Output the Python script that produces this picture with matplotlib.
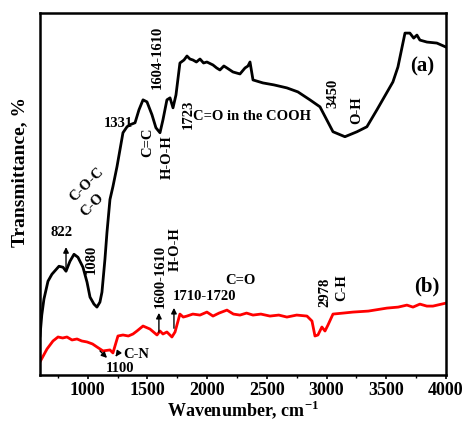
import matplotlib
matplotlib.use('Agg')
import matplotlib.pyplot as plt
from matplotlib.ticker import MultipleLocator

plt.rcParams['font.family'] = ['Liberation Serif', 'DejaVu Serif']
plt.rcParams['font.weight'] = 'bold'
plt.rcParams['mathtext.fontset'] = 'custom'
plt.rcParams['mathtext.rm'] = 'Liberation Serif:bold'
plt.rcParams['mathtext.bf'] = 'Liberation Serif:bold'

# spectrum (a) (arbitrary transmittance units)
wn_a = [600, 615, 633, 667, 700, 759, 793, 818, 851, 885, 918, 960, 994, 1019,
        1052, 1077, 1102, 1119, 1144, 1161, 1186, 1211, 1245, 1295, 1329, 1354,
        1396, 1429, 1463, 1496, 1538, 1571, 1605, 1630, 1663, 1689, 1714, 1739,
        1772, 1806, 1831, 1856, 1881, 1910, 1940, 1970, 1998, 2049, 2080, 2107,
        2140, 2166, 2216, 2275, 2317, 2342, 2359, 2384, 2467, 2560, 2668, 2760,
        2861, 2945, 3054, 3154, 3255, 3338, 3422, 3556, 3598, 3657, 3698, 3730,
        3757, 3782, 3841, 3924, 4000]
tr_a = [39, 60, 76, 94, 101, 109, 108, 104, 114, 121, 118, 108, 93, 78,
        71, 68, 73, 83, 116, 143, 176, 189, 209, 243, 249, 251,
        253, 266, 276, 274, 261, 248, 243, 256, 276, 278, 268, 281,
        313, 316, 320, 317, 316, 314, 317, 313, 314, 311, 308, 306,
        310, 308, 304, 302, 308, 310, 314, 296, 293, 291, 288, 284,
        276, 269, 244, 239, 244, 249, 266, 294, 309, 343, 343, 338,
        341, 336, 334, 333, 329]

# spectrum (b)
wn_b = [600, 659, 709, 751, 790, 826, 868, 910, 950, 994, 1040, 1077, 1128,
        1186, 1211, 1253, 1295, 1340, 1379, 1412, 1463, 1521, 1580, 1605, 1630,
        1663, 1705, 1731, 1772, 1800, 1831, 1880, 1940, 1998, 2049, 2100, 2166,
        2220, 2275, 2330, 2384, 2450, 2526, 2600, 2668, 2750, 2836, 2878, 2903,
        2928, 2961, 2987, 3012, 3054, 3140, 3221, 3350, 3506, 3600, 3673, 3724,
        3782, 3840, 3891, 4000]
tr_b = [13, 26, 34, 38, 37, 38, 35, 36, 34, 33, 31, 28, 24,
        25, 22, 39, 40, 39, 41, 44, 49, 46, 40, 44, 41,
        43, 38, 43, 61, 58, 59, 61, 60, 63, 59, 62, 65,
        61, 60, 62, 60, 61, 59, 60, 58, 60, 59, 54, 39,
        40, 48, 44, 50, 61, 62, 63, 64, 67, 68, 70, 68,
        71, 69, 69, 72]

fig = plt.figure(figsize=(4.65, 4.25), dpi=100)
ax = fig.add_axes([0.086, 0.118, 0.873, 0.851])

ax.plot(wn_a, tr_a, color='black', lw=2)
ax.plot(wn_b, tr_b, color='red', lw=2)

ax.set_xlim(600, 4000)
ax.set_ylim(0, 363)
ax.set_yticks([])
ax.xaxis.set_minor_locator(MultipleLocator(250))
ax.set_xticks([1000, 1500, 2000, 2500, 3000, 3500, 4000])
ax.tick_params(axis='x', which='major', direction='out', length=3, width=1.2,
               labelsize=13, pad=2)
ax.tick_params(axis='x', which='minor', direction='out', length=2, width=1)
for s in ax.spines.values():
    s.set_linewidth(1.8)

ax.set_xlabel('Wavenumber, cm$^{-1}$', fontsize=13, fontweight='bold')
ax.xaxis.set_label_coords(0.5, -0.066)
ax.set_ylabel('Transmittance, %', fontsize=14, fontweight='bold')
ax.yaxis.set_label_coords(-0.03, 0.56)

fs = 10.5
arr = dict(arrowstyle='-|>', color='black', lw=1, mutation_scale=8)

# labels for (a)
ax.text(784, 143, '822', fontsize=fs, ha='center', va='center')
ax.annotate('', xy=(818, 131), xytext=(818, 104), arrowprops=arr)
ax.text(1027, 116, '1080', fontsize=fs, rotation=90, ha='center', va='center')
ax.text(994, 191, 'C-O-C', fontsize=fs, rotation=45, ha='center', va='center')
ax.text(1035, 170, 'C-O', fontsize=fs, rotation=45, ha='center', va='center')
ax.text(1253, 252, '1331', fontsize=fs, ha='center', va='center')
ax.text(1580, 319, '1604-1610', fontsize=fs, rotation=90, ha='center', va='center')
ax.text(1504, 233, 'C=C', fontsize=fs, rotation=90, ha='center', va='center')
ax.text(1663, 219, 'H-O-H', fontsize=fs, rotation=90, ha='center', va='center')
ax.text(1839, 261, '1723', fontsize=fs, rotation=90, ha='center', va='center')
ax.text(1880, 259, 'C=O in the COOH', fontsize=fs, ha='left', va='center')
ax.text(3054, 283, '3450', fontsize=fs, rotation=90, ha='center', va='center')
ax.text(3255, 266, 'O-H', fontsize=fs, rotation=90, ha='center', va='center')
ax.text(3799, 309, '(a)', fontsize=15, ha='center', va='center')

# labels for (b)
ax.text(3841, 89, '(b)', fontsize=15, ha='center', va='center')
ax.text(2987, 83, '2978', fontsize=fs, rotation=90, ha='center', va='center')
ax.text(3129, 88, 'C-H', fontsize=fs, rotation=90, ha='center', va='center')
ax.text(2275, 95, 'C=O', fontsize=fs, ha='center', va='center')
ax.text(1982, 79, '1710-1720', fontsize=fs, ha='center', va='center')
ax.annotate('', xy=(1722, 70), xytext=(1722, 44), arrowprops=arr)
ax.text(1605, 99, '1600-1610', fontsize=fs, rotation=90, ha='center', va='center')
ax.text(1731, 126, 'H-O-H', fontsize=fs, rotation=90, ha='center', va='center')
ax.annotate('', xy=(1596, 65), xytext=(1596, 40), arrowprops=arr)
ax.text(1405, 20, 'C-N', fontsize=fs, ha='center', va='center')
ax.text(1270, 6, '1100', fontsize=fs, ha='center', va='center')
ax.annotate('', xy=(1178, 15), xytext=(1086, 26), arrowprops=arr)
ax.annotate('', xy=(1220, 16), xytext=(1255, 22), arrowprops=arr)

fig.savefig('out.png', dpi=100)
